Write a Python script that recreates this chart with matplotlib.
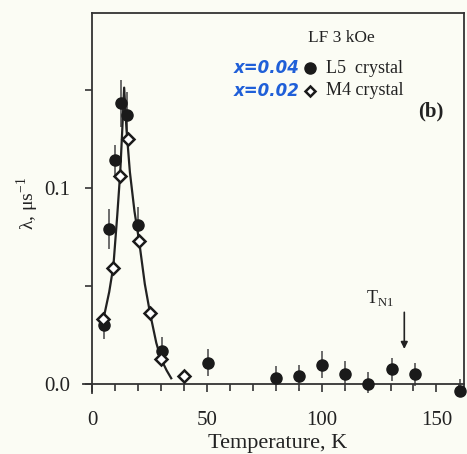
import matplotlib
matplotlib.use("Agg")
import matplotlib.pyplot as plt
from matplotlib.ticker import MultipleLocator, FixedLocator

# ─── Data ────────────────────────────────────────────────────────────────────
# L5 crystal (x = 0.04), filled circles with error bars
l5_temp = [5.2, 7.5, 10.1, 12.6, 15.2, 20.1, 30.3, 50.3, 80.1, 90.1,
           100.0, 110.3, 120.4, 130.7, 140.6, 160.4]
l5_lam = [0.030, 0.079, 0.114, 0.143, 0.137, 0.081, 0.017, 0.011, 0.003, 0.004,
          0.010, 0.005, 0.000, 0.0075, 0.005, -0.0036]
l5_err = [0.007, 0.010, 0.008, 0.012, 0.012, 0.009, 0.007, 0.007, 0.006, 0.006,
          0.007, 0.007, 0.006, 0.006, 0.006, 0.006]

# M4 crystal (x = 0.02), open diamonds
m4_temp = [4.7, 9.3, 12.3, 15.5, 20.5, 25.3, 30.0, 40.0]
m4_lam = [0.033, 0.059, 0.106, 0.125, 0.073, 0.036, 0.013, 0.0042]

# guide-to-the-eye curve
fit_temp = [4.0, 5.5, 7.5, 9.3, 11.0, 12.3, 13.2, 14.0, 15.0, 16.5, 18.5,
            20.5, 23.0, 25.3, 28.0, 30.0, 32.5, 34.5]
fit_lam = [0.031, 0.036, 0.047, 0.060, 0.086, 0.108, 0.130, 0.151, 0.130,
           0.108, 0.088, 0.073, 0.051, 0.036, 0.021, 0.013, 0.007, 0.003]

tn1_temp = 136

# ─── Figure ──────────────────────────────────────────────────────────────────
plt.rcParams["font.family"] = ["Liberation Serif", "DejaVu Serif"]
bg = "#fbfcf4"
ink = "#222222"
fig = plt.figure(figsize=(4.67, 4.54), dpi=100, facecolor=bg)
ax = fig.add_axes([92 / 467, 1 - 393 / 454, (464 - 92) / 467, (393 - 13) / 454])
ax.set_facecolor(bg)

ax.errorbar(l5_temp, l5_lam, yerr=l5_err, fmt="none", ecolor="#606060",
            elinewidth=1.3, capsize=0, zorder=2)
ax.plot(fit_temp, fit_lam, color=ink, lw=1.6, zorder=3)
ax.plot(l5_temp, l5_lam, "o", color="#1a1a1a", ms=8, zorder=4, clip_on=False)
ax.plot(m4_temp, m4_lam, "D", mfc="white", mec="#1a1a1a", mew=1.8, ms=6,
        zorder=5, clip_on=False)

ax.set_xlim(0, 162)
ax.set_ylim(-0.0045, 0.189)

ax.spines["bottom"].set_position(("data", 0))
for sp in ax.spines.values():
    sp.set_color("#333333")
    sp.set_linewidth(1.3)
# zero line runs a little past the left frame
ax.plot([-4, 0], [0, 0], color="#333333", lw=1.3, clip_on=False)

ax.xaxis.set_major_locator(FixedLocator([0, 50, 100, 150]))
ax.xaxis.set_minor_locator(MultipleLocator(10))
ax.yaxis.set_major_locator(FixedLocator([0.0, 0.1]))
ax.yaxis.set_minor_locator(FixedLocator([0.05, 0.15]))
ax.yaxis.set_major_formatter(plt.FuncFormatter(lambda v, p: f"{v:.1f}"))
ax.tick_params(which="both", direction="out", color="#333333", width=1.2,
               labelsize=15, labelcolor=ink)
ax.tick_params(axis="x", which="major", length=6, pad=13)
ax.tick_params(axis="x", which="minor", length=5)
ax.tick_params(axis="y", which="both", length=5, pad=11)

ax.set_xlabel("Temperature, K", fontsize=16, color=ink, labelpad=3)
ax.set_ylabel("λ, μs$^{\\mathregular{-1}}$", fontsize=14, color=ink,
              labelpad=2)

# legend block
ax.text(0.67, 0.935, "LF 3 kOe", transform=ax.transAxes, fontsize=12.5,
        ha="center", va="center", color=ink)
ax.plot([0.585], [0.855], "o", transform=ax.transAxes, color="#1a1a1a", ms=8,
        clip_on=False)
ax.plot([0.585], [0.795], "D", transform=ax.transAxes, mfc="white",
        mec="#1a1a1a", mew=1.8, ms=5.5, clip_on=False)
ax.text(0.63, 0.855, "L5  crystal", transform=ax.transAxes, fontsize=13,
        va="center", color=ink)
ax.text(0.63, 0.795, "M4 crystal", transform=ax.transAxes, fontsize=13,
        va="center", color=ink)
for yy, lbl in [(0.855, "x=0.04"), (0.795, "x=0.02")]:
    ax.text(0.557, yy, lbl, transform=ax.transAxes, fontsize=12,
            family="DejaVu Sans", style="italic", weight="bold",
            ha="right", va="center", color="#1f5fd8")
ax.text(0.944, 0.74, "(b)", transform=ax.transAxes, fontsize=15,
        fontweight="bold", ha="right", va="center", color=ink)

# T_N1 marker
ax.text(119.5, 0.044, "T$_{\\mathregular{N1}}$", fontsize=13, ha="left",
        va="center", color=ink)
ax.annotate("", xy=(tn1_temp, 0.0165), xytext=(tn1_temp, 0.038),
            arrowprops=dict(arrowstyle="-|>", color=ink, lw=1.2,
                            mutation_scale=10))

fig.savefig("out.png", dpi=100, facecolor=bg)
